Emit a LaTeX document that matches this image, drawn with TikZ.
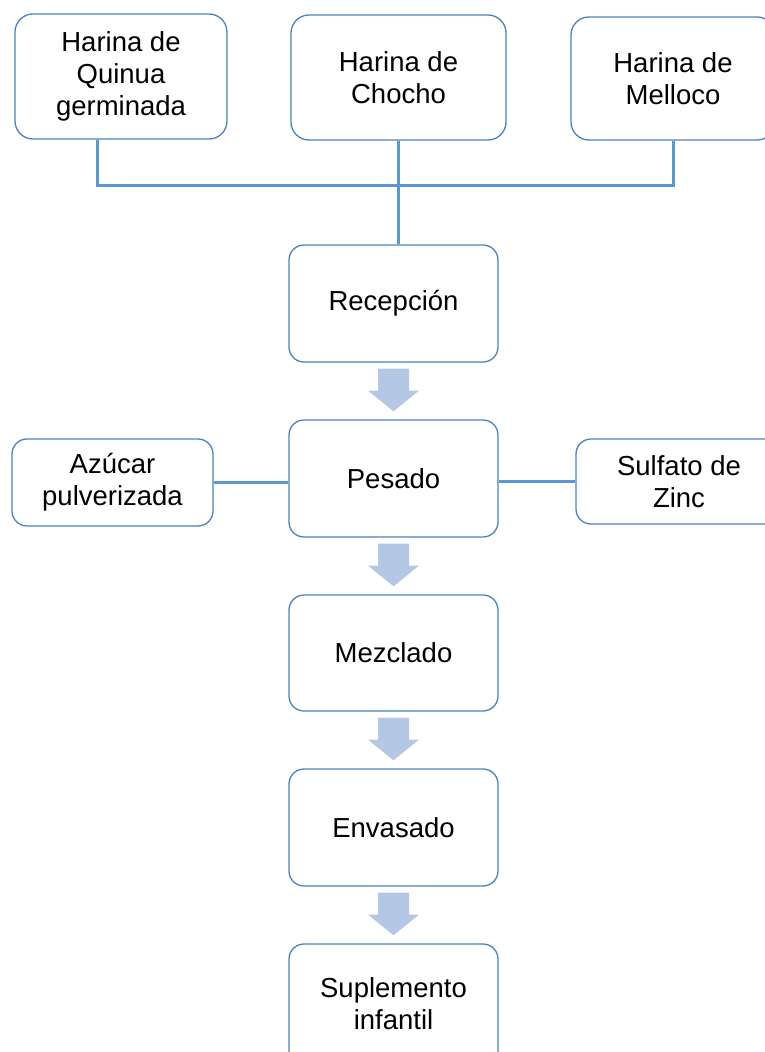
\documentclass[tikz,border=0pt]{standalone}
\usepackage{fontspec}
\setmainfont{Liberation Sans}
\definecolor{boxline}{HTML}{4A84C0}
\definecolor{connline}{HTML}{5B97D2}
\definecolor{arrowfill}{HTML}{B4C8E6}
\tikzset{
  box/.style={draw=boxline, line width=1.3pt, fill=white, rounded corners=18pt,
    inner sep=0pt, align=center, font=\fontsize{27.5}{32}\selectfont},
  conn/.style={draw=connline, line width=3pt},
  flowarrow/.style={fill=arrowfill, draw=none},
}
\begin{document}
\begin{tikzpicture}[x=1pt,y=-1pt]
\useasboundingbox (0,0) rectangle (765,1052);
\clip (0,0) rectangle (765,1052);
% top boxes
\node[box, minimum width=212pt, minimum height=125pt] (quinua) at (121,76.5) {Harina de\\Quinua\\germinada};
\node[box, minimum width=215pt, minimum height=125pt] (chocho) at (398.5,77.5) {Harina de\\Chocho};
\node[box, minimum width=204pt, minimum height=123pt] (melloco) at (673,78.5) {Harina de\\Melloco};
% process boxes
\node[box, rounded corners=15pt, minimum width=209pt, minimum height=117pt] (recepcion) at (393.5,303.5) {Recepción};
\node[box, rounded corners=15pt, minimum width=209pt, minimum height=117pt] (pesado) at (393.5,478.5) {Pesado};
\node[box, rounded corners=15pt, minimum width=209pt, minimum height=116pt] (mezclado) at (393.5,653) {Mezclado};
\node[box, rounded corners=15pt, minimum width=209pt, minimum height=117pt] (envasado) at (393.5,827.5) {Envasado};
\node[box, rounded corners=15pt, minimum width=209pt, minimum height=140pt] (suplemento) at (393.5,1014) {};
\node[font=\fontsize{27.5}{32}\selectfont, align=center, inner sep=0pt] (suptext) at (393.5,1004) {Suplemento\\infantil};
% side boxes
\node[box, rounded corners=15pt, minimum width=201pt, minimum height=87pt] (azucar) at (112.5,482.5) {Azúcar\\pulverizada};
\node[box, rounded corners=15pt, minimum width=206pt, minimum height=85pt] (zinc) at (679,481.5) {Sulfato de\\Zinc};
% connectors
\coordinate (bus) at (398.5,185);
\draw[conn] ([xshift=-24pt]quinua.south) |- (bus) -| (melloco.south);
\draw[conn] (chocho.south) -- (chocho.south |- recepcion.north);
\draw[conn] (azucar.east) -- (azucar.east -| pesado.west);
\draw[conn] (pesado.east |- zinc.west) -- (zinc.west);
% block arrows
\foreach \a/\b in {recepcion/pesado, pesado/mezclado, mezclado/envasado, envasado/suplemento}{
  \path[flowarrow] ([xshift=-15.5pt,yshift=-6pt]\a.south) -- ([xshift=15.5pt,yshift=-6pt]\a.south)
    -- ([xshift=15.5pt,yshift=-28pt]\a.south) -- ([xshift=25.5pt,yshift=-28pt]\a.south)
    -- ([yshift=8pt]\b.north) -- ([xshift=-25.5pt,yshift=-28pt]\a.south)
    -- ([xshift=-15.5pt,yshift=-28pt]\a.south) -- cycle;
}
\end{tikzpicture}
\end{document}
